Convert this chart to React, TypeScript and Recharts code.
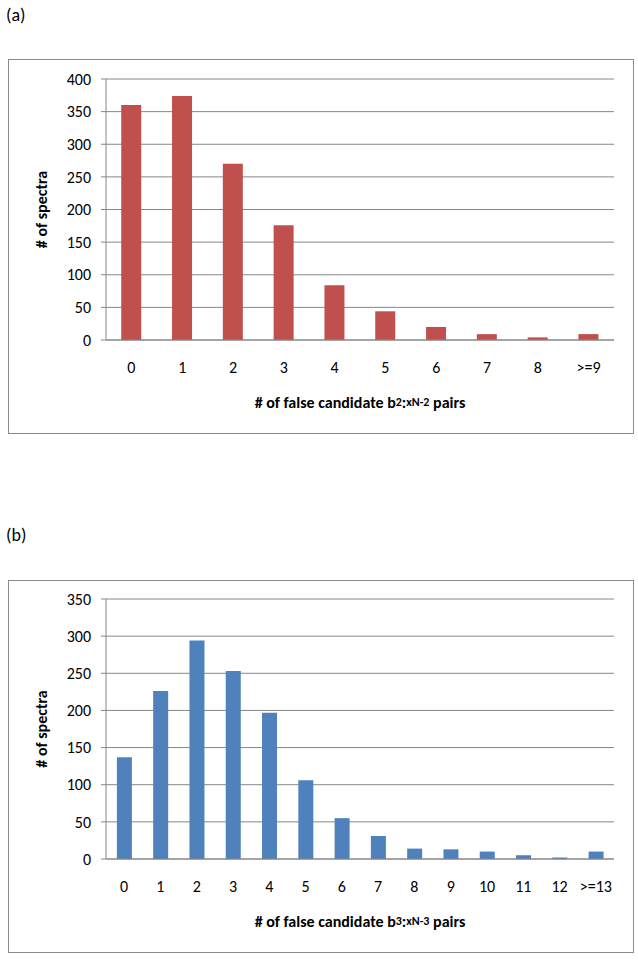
import React from 'react';
import { BarChart, Bar, XAxis, YAxis, CartesianGrid } from 'recharts';

// (a) false candidate b2:xN-2 pairs
const catsA = ['0', '1', '2', '3', '4', '5', '6', '7', '8', '>=9'];
const valsA = [360, 374, 270, 176, 84, 44, 20, 9, 4, 9];
const ticksA = [0, 50, 100, 150, 200, 250, 300, 350, 400];

// (b) false candidate b3:xN-3 pairs
const catsB = ['0', '1', '2', '3', '4', '5', '6', '7', '8', '9', '10', '11', '12', '>=13'];
const valsB = [137, 226, 294, 253, 197, 106, 55, 31, 14, 13, 10, 5, 2, 10];
const ticksB = [0, 50, 100, 150, 200, 250, 300, 350];

const FONT = 'Carlito, Lato, "Open Sans", sans-serif';
const GRID = '#878787';

const YTitle = (props: any) => {
  const { viewBox } = props;
  const cy = viewBox.y + viewBox.height / 2;
  return (
    <text
      x={33}
      y={cy}
      transform={`rotate(-90, 33, ${cy})`}
      textAnchor="middle"
      dominantBaseline="central"
      fontFamily={FONT}
      fontWeight="bold"
      fontSize={16}
      fill="#000"
    >
      # of spectra
    </text>
  );
};

// x title with the small "2:xN-2" style subscripts
const makeXTitle = (n: string) => (props: any) => {
  const { viewBox } = props;
  const cx = viewBox.x + viewBox.width / 2;
  const cy = viewBox.y + 62;
  return (
    <text
      x={cx}
      y={cy}
      textAnchor="middle"
      dominantBaseline="central"
      fontFamily={FONT}
      fontWeight="bold"
      fontSize={16}
      fill="#000"
    >
      <tspan># of false candidate b</tspan>
      <tspan fontSize={12}>{n}</tspan>
      <tspan>:</tspan>
      <tspan fontSize={12}>{`xN-${n}`}</tspan>
      <tspan> pairs</tspan>
    </text>
  );
};

const Histo = ({ cats, vals, ticks, color, top, height, n }: any) => {
  const data = cats.map((c: string, i: number) => ({ name: c, value: vals[i] }));
  const max = ticks[ticks.length - 1];
  const mTop = height === 375 ? 20 : 19;
  return (
    <div
      style={{
        position: 'absolute',
        left: 8,
        top,
        width: 626,
        height,
        outline: '1px solid #8a8a8a',
        outlineOffset: -1,
        background: '#fff',
      }}
    >
      <BarChart
        width={626}
        height={height}
        data={data}
        margin={{ top: mTop, right: 20, left: 0, bottom: 0 }}
        barCategoryGap="30%"
      >
        <CartesianGrid vertical={false} stroke={GRID} strokeWidth={1} />
        <XAxis
          dataKey="name"
          height={94}
          interval={0}
          tickLine={false}
          tickSize={0}
          tickMargin={22}
          axisLine={{ stroke: GRID }}
          tick={{ fontFamily: FONT, fontSize: 16, fill: '#000' }}
          label={{ content: makeXTitle(n) }}
        />
        <YAxis
          width={98}
          domain={[0, max]}
          ticks={ticks}
          interval={0}
          tickSize={5}
          tickMargin={10}
          tickLine={{ stroke: GRID }}
          axisLine={{ stroke: GRID }}
          tick={{ fontFamily: FONT, fontSize: 16, fill: '#000' }}
          label={{ content: <YTitle /> }}
        />
        <Bar dataKey="value" fill={color} isAnimationActive={false} />
      </BarChart>
    </div>
  );
};

export default function App() {
  return (
    <div style={{ position: 'absolute', left: 0, top: 0, width: 638, height: 961, background: '#fff', fontFamily: FONT }}>
      <div style={{ position: 'absolute', left: 6, top: 4, fontSize: 18 }}>(a)</div>
      <Histo cats={catsA} vals={valsA} ticks={ticksA} color="#C0504D" top={59} height={375} n="2" />
      <div style={{ position: 'absolute', left: 6, top: 524, fontSize: 18 }}>(b)</div>
      <Histo cats={catsB} vals={valsB} ticks={ticksB} color="#4F81BD" top={580} height={373} n="3" />
    </div>
  );
}
